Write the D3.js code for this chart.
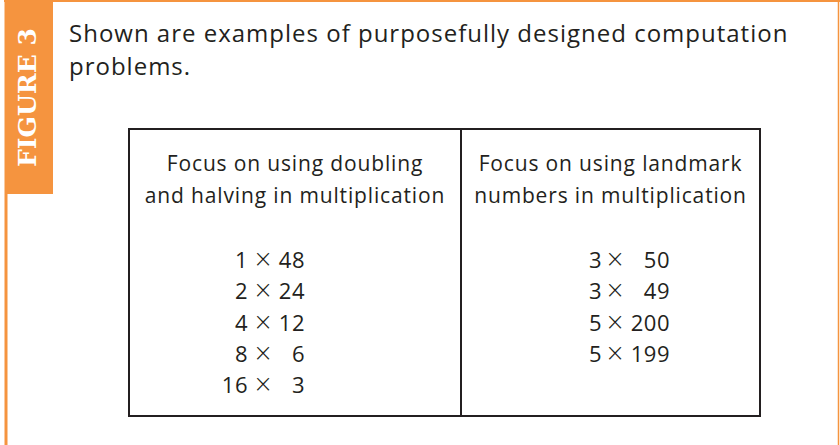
<!DOCTYPE html>
<html><head><meta charset="utf-8">
<script src="https://cdn.jsdelivr.net/npm/d3@7"></script>
<style>
html,body{margin:0;padding:0;background:#fff;}
svg{display:block;}
</style></head>
<body>
<svg id="c" width="840" height="445"></svg>
<script>
const figureLabel = "FIGURE 3";
const titleLines = ["Shown are examples of purposefully designed computation", "problems."];
const columnHeaders = [
  ["Focus on using doubling", "and halving in multiplication"],
  ["Focus on using landmark", "numbers in multiplication"]
];
const doublingFactors = [1, 2, 4, 8, 16];
const doublingMultiplicands = [48, 24, 12, 6, 3];
const landmarkFactors = [3, 3, 5, 5];
const landmarkMultiplicands = [50, 49, 200, 199];

const orange = "#F5943F";
const ink = "#231F20";
const svg = d3.select("#c");

// frame
svg.append("line").attr("x1", 4).attr("x2", 840).attr("y1", 1).attr("y2", 1).attr("stroke", orange).attr("stroke-width", 2);
svg.append("line").attr("x1", 6).attr("x2", 6).attr("y1", 0).attr("y2", 445).attr("stroke", orange).attr("stroke-width", 3);
svg.append("line").attr("x1", 838.5).attr("x2", 838.5).attr("y1", 0).attr("y2", 445).attr("stroke", orange).attr("stroke-width", 1.5);
svg.append("rect").attr("x", 5).attr("y", 2).attr("width", 48).attr("height", 192).attr("fill", orange);
svg.append("text").attr("transform", "translate(36,97.5) rotate(-90)")
  .attr("text-anchor", "middle").attr("fill", "#fff")
  .style("font-family", "'DejaVu Serif'").style("font-weight", "bold").style("font-size", "24px")
  .attr("textLength", 139).attr("lengthAdjust", "spacingAndGlyphs")
  .text(figureLabel);

// title
svg.selectAll("text.title").data(titleLines).join("text").attr("class", "title")
  .attr("x", 69).attr("y", (d, i) => 42 + i * 33)
  .attr("fill", ink).style("font-family", "'Open Sans'").style("font-size", "24px")
  .style("letter-spacing", "1px")
  .text(d => d);

// table
const tableTop = 129, tableBottom = 416;
const colEdges = [129, 461, 760];
const col = d3.scaleOrdinal().domain([0, 1]).range([0, 1].map(i => (colEdges[i] + colEdges[i + 1]) / 2));
svg.append("rect").attr("x", colEdges[0]).attr("y", tableTop)
  .attr("width", colEdges[2] - colEdges[0]).attr("height", tableBottom - tableTop)
  .attr("fill", "none").attr("stroke", ink).attr("stroke-width", 2);
svg.append("line").attr("x1", colEdges[1]).attr("x2", colEdges[1]).attr("y1", tableTop).attr("y2", tableBottom)
  .attr("stroke", ink).attr("stroke-width", 2);

columnHeaders.forEach((lines, c) => {
  svg.selectAll("text.h" + c).data(lines).join("text").attr("class", "h" + c)
    .attr("x", col(c)).attr("y", (d, i) => 171 + i * 32)
    .attr("text-anchor", "middle").attr("fill", ink)
    .style("font-family", "'Open Sans'").style("font-size", "21px")
    .style("letter-spacing", "0.85px").text(d => d);
});

const row = d3.scaleLinear().domain([0, 4]).range([268, 393]);
function drawProblems(factors, mults, xA, xTimes, xB) {
  const g = svg.append("g").attr("fill", ink).style("font-family", "'Open Sans'").style("font-size", "22px");
  factors.forEach((f, i) => {
    g.append("text").attr("x", xA).attr("y", row(i)).attr("text-anchor", "end").style("letter-spacing", "0.5px").text(f);
    g.append("text").attr("x", xTimes).attr("y", row(i) - 1).attr("text-anchor", "middle")
      .style("font-family", "'DejaVu Sans'").style("font-weight", "200").style("font-size", "24px").text("\u00D7");
    g.append("text").attr("x", xB).attr("y", row(i)).attr("text-anchor", "end").style("letter-spacing", "0.5px").text(mults[i]);
  });
}
drawProblems(doublingFactors, doublingMultiplicands, 248, 263, 305);
drawProblems(landmarkFactors, landmarkMultiplicands, 602, 615, 670);
</script>
</body></html>
